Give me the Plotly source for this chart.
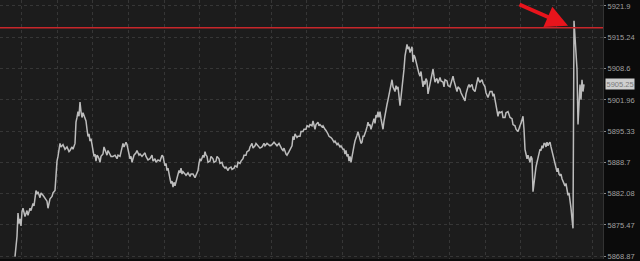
import plotly.graph_objects as go

# ---- data ----
bar_index = [15,16,17,18,19,20,21,22,23,25,27,28,30,31,33,34,36,37,38,40,41,43,45,47,48,49,50,52,53,55,
56,57,58,59,60,61,63,65,67,69,70,72,73,75,76,77,78,79,80,81,82,83,84,85,86,87,88,89,90,91,
92,93,94,95,96,97,98,99,100,101,103,104,105,106,107,108,110,111,113,115,117,118,120,121,123,124,126,127,128,129,
130,131,132,133,134,136,137,139,140,142,143,145,146,148,150,152,153,155,156,158,160,162,163,164,165,166,167,168,169,170,
171,172,173,174,175,176,177,178,179,180,181,182,183,185,186,188,190,191,193,195,196,197,198,199,200,201,203,204,205,206,
207,208,210,211,213,214,216,217,219,220,222,223,225,226,228,229,231,232,234,235,237,238,240,241,243,244,246,247,249,250,
252,253,255,256,258,260,262,264,265,267,270,272,274,275,277,279,280,282,283,284,286,287,289,290,292,293,294,295,297,298,
300,301,303,304,306,307,309,310,312,313,315,316,318,319,320,322,323,325,326,328,329,331,332,334,335,337,338,340,341,343,
344,345,346,347,348,349,350,351,352,353,354,355,356,357,358,359,360,361,362,363,364,365,366,367,368,369,370,371,372,373,
374,375,376,377,378,379,380,381,382,383,384,385,386,387,388,389,390,391,392,393,394,395,396,397,398,399,400,401,402,403,
404,405,406,407,408,409,410,411,412,413,414,415,416,417,418,419,420,421,422,423,424,425,426,427,428,429,430,431,432,433,
434,435,436,437,438,440,441,443,444,445,447,448,450,451,452,453,454,455,456,457,458,460,461,463,464,465,466,467,468,469,
470,472,473,475,476,477,478,479,480,482,483,485,486,488,489,490,492,493,494,495,496,497,498,499,500,502,503,505,506,508,
509,510,512,513,515,516,518,519,520,521,522,523,524,525,526,527,528,529,530,531,532,533,534,535,536,537,538,539,540,541,
542,543,544,545,546,547,548,549,550,551,552,553,554,555,556,557,558,559,560,561,562,563,564,565,566,567,568,569,570,571,
572,573,574,575,576,577,578,579,580,581,582,583,584]

price = [5868.75,5870.5,5873.0,5878.0,5875.75,5876.75,5875.25,5878.25,5879.0,5877.25,5878.5,5877.5,5879.0,5878.5,5880.0,5879.5,5882.75,5882.0,5882.5,5881.25,5882.25,5881.75,5881.0,5880.5,5879.0,5880.5,5881.0,5881.5,5882.25,5882.75,
5887.5,5889.0,5890.0,5891.5,5892.75,5892.0,5892.5,5891.5,5892.0,5891.0,5891.25,5892.0,5891.5,5892.75,5897.25,5898.25,5899.5,5898.5,5901.5,5899.5,5898.25,5899.25,5898.5,5898.0,5897.5,5895.75,5894.25,5894.75,5893.25,5893.75,
5892.25,5891.25,5890.0,5890.5,5889.0,5890.25,5890.0,5889.5,5888.75,5890.0,5890.5,5892.0,5891.5,5890.75,5890.25,5891.25,5890.5,5890.0,5890.0,5890.25,5889.5,5890.25,5890.0,5891.0,5892.75,5892.0,5893.0,5892.5,5891.5,5890.5,
5889.5,5890.0,5888.75,5889.5,5890.25,5890.75,5891.25,5890.25,5890.5,5890.0,5890.25,5890.75,5890.0,5889.25,5889.5,5890.25,5889.0,5889.5,5888.75,5889.25,5889.0,5890.25,5890.0,5888.75,5888.0,5888.5,5887.0,5887.5,5886.0,5885.25,
5884.25,5884.75,5883.5,5884.5,5883.75,5884.75,5885.25,5886.25,5887.0,5886.5,5887.5,5886.25,5886.75,5886.25,5886.0,5886.5,5885.75,5886.25,5886.25,5885.5,5886.0,5886.25,5887.0,5888.5,5889.5,5889.0,5890.25,5889.75,5891.0,5890.25,
5890.0,5888.75,5889.0,5890.0,5889.5,5888.75,5889.0,5890.0,5889.5,5888.5,5888.75,5888.0,5887.5,5887.75,5887.0,5887.5,5887.75,5887.25,5887.5,5888.0,5887.75,5888.75,5888.5,5889.0,5889.5,5890.25,5890.25,5891.0,5891.25,5892.0,
5892.75,5891.75,5892.25,5892.75,5892.25,5891.75,5892.0,5892.75,5892.25,5892.75,5892.25,5892.5,5893.0,5892.75,5892.25,5892.75,5892.25,5891.5,5891.25,5891.75,5890.5,5890.25,5891.0,5891.5,5892.25,5894.25,5893.5,5894.75,5894.0,5894.25,
5894.25,5895.25,5895.25,5895.75,5895.75,5896.5,5896.25,5896.75,5896.5,5897.5,5895.75,5896.75,5897.25,5896.5,5896.75,5896.25,5896.5,5895.75,5895.5,5894.75,5894.25,5894.0,5893.75,5893.0,5893.25,5892.5,5892.75,5892.0,5892.25,5891.5,
5891.5,5890.5,5891.25,5890.0,5890.5,5889.0,5890.0,5888.75,5890.25,5891.5,5892.25,5893.25,5894.25,5894.5,5895.25,5894.25,5893.75,5892.75,5893.0,5894.25,5894.25,5895.25,5895.5,5896.25,5897.25,5896.5,5896.75,5895.75,5896.5,5897.25,
5898.0,5897.0,5898.75,5898.25,5899.5,5898.25,5899.5,5898.0,5896.75,5895.75,5897.5,5899.0,5900.0,5901.0,5902.0,5903.25,5904.25,5905.5,5906.25,5904.75,5904.25,5903.75,5905.0,5904.25,5904.75,5902.75,5900.75,5902.5,5904.25,5906.25,
5908.5,5911.25,5912.25,5913.75,5912.75,5913.25,5912.0,5912.75,5913.25,5910.0,5911.5,5911.0,5910.0,5909.0,5908.5,5907.5,5907.0,5908.0,5906.25,5904.75,5906.0,5905.25,5906.5,5906.0,5903.25,5904.25,5904.75,5906.25,5907.25,5908.5,
5907.0,5905.75,5906.25,5906.5,5905.5,5906.75,5906.0,5905.75,5904.75,5906.25,5906.0,5905.0,5904.75,5905.5,5906.75,5907.0,5906.0,5905.25,5904.5,5903.75,5904.75,5904.25,5903.5,5902.75,5902.25,5901.75,5903.25,5904.25,5904.75,5905.25,
5904.75,5905.25,5904.25,5903.75,5905.0,5906.0,5906.75,5906.0,5905.75,5906.25,5905.5,5904.75,5903.5,5902.5,5903.25,5903.75,5903.75,5902.75,5903.25,5902.0,5900.5,5899.5,5898.5,5899.5,5899.25,5899.5,5898.25,5898.25,5899.25,5899.5,
5898.75,5898.25,5898.0,5896.75,5896.5,5895.75,5895.25,5896.25,5896.5,5897.0,5898.0,5898.5,5895.75,5891.5,5890.5,5889.5,5890.25,5889.25,5888.75,5890.0,5889.5,5882.5,5884.75,5886.75,5887.75,5888.75,5889.5,5890.5,5891.5,5891.25,
5892.25,5891.75,5892.75,5892.75,5892.0,5893.0,5892.25,5892.75,5893.0,5892.0,5891.0,5890.25,5889.5,5888.75,5887.5,5886.75,5887.5,5886.25,5886.0,5886.25,5885.25,5884.75,5884.0,5883.75,5884.25,5882.75,5881.75,5882.25,5881.0,5879.0,
5876.75,5874.75,5918.75,5915.75,5911.5,5908.5,5896.75,5903.25,5905.25,5902.0,5906.25,5903.75,5905.25]

tick_values = [5921.9, 5915.24, 5908.6, 5901.96, 5895.33, 5888.7, 5882.08, 5875.47, 5868.87]
tick_labels = ["5921.9", "5915.24", "5908.6", "5901.96", "5895.33", "5888.7", "5882.08", "5875.47", "5868.87"]
y_range = [5868.24, 5923.16]
x_range = [0, 603]
x_grid = [21.3, 57, 92.7, 128.3, 164, 199.7, 235.3, 271, 306.7, 342.3, 378, 413.7, 449.3, 485, 520.7, 556.3, 592]
resistance_level = 5917.27
last_price = 5905.25
arrow_target = (568, 5917.69)

fig = go.Figure()
fig.add_trace(go.Scatter(
    x=bar_index, y=price, mode="lines",
    line=dict(color="#bcbcbc", width=1.5),
    hoverinfo="skip", showlegend=False,
))

fig.add_shape(type="line", xref="paper", x0=0, x1=1, yref="y",
              y0=resistance_level, y1=resistance_level,
              line=dict(color="#c8262a", width=1.5))

fig.add_annotation(
    x=arrow_target[0], y=arrow_target[1], xref="x", yref="y",
    ax=-50, ay=-22, text="", showarrow=True,
    arrowhead=2, arrowsize=1.1, arrowwidth=4, arrowcolor="#e8141c",
)

fig.add_annotation(
    x=1, xref="paper", y=last_price, yref="y", xanchor="left", yanchor="middle",
    xshift=2, text="5905.25", showarrow=False,
    font=dict(family="Liberation Sans", size=7.5, color="#7a7a7a"),
    bgcolor="#cfcfcf", borderpad=0.5,
)

fig.update_layout(
    width=640, height=261,
    margin=dict(l=0, r=37, t=0, b=0),
    paper_bgcolor="#0b0b0b", plot_bgcolor="#1c1c1c",
    xaxis=dict(range=x_range, tickvals=x_grid, showticklabels=False,
               showgrid=True, gridcolor="#363636", griddash="dot", gridwidth=1,
               zeroline=False, ticks=""),
    yaxis=dict(range=y_range, side="right", tickvals=tick_values, ticktext=tick_labels,
               showgrid=True, gridcolor="#363636", griddash="dot", gridwidth=1,
               zeroline=False, ticks="outside", ticklen=2, tickcolor="#888888",
               ticklabeloverflow="allow",
               showline=True, linecolor="#333333", linewidth=1,
               tickfont=dict(family="Liberation Sans", size=7.5, color="#a0a0a0")),
)

fig.write_html("out.html")
